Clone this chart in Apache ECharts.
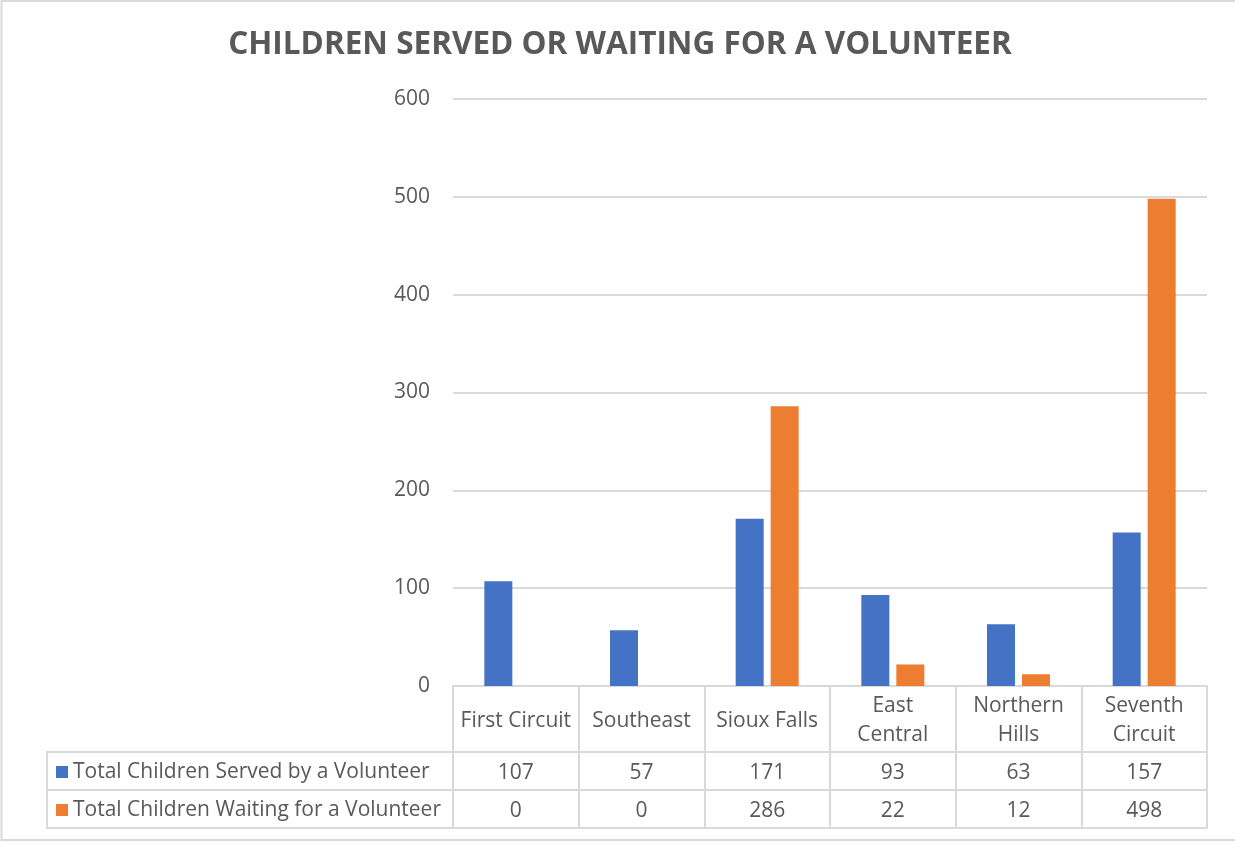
<!DOCTYPE html>
<html>
<head>
<meta charset="utf-8">
<script src="https://cdn.jsdelivr.net/npm/echarts@6/dist/echarts.min.js"></script>
<style>
  html, body { margin: 0; padding: 0; background: #fff; }
  #charts { width: 1235px; height: 842px; }
</style>
</head>
<body>
<div id="charts"></div>
<script>
var categories = ['First Circuit', 'Southeast', 'Sioux Falls', 'East Central', 'Northern Hills', 'Seventh Circuit'];
var wrapped = ['East Central', 'Northern Hills', 'Seventh Circuit'];
var servedName = 'Total Children Served by a Volunteer';
var waitingName = 'Total Children Waiting for a Volunteer';
var served = [107, 57, 171, 93, 63, 157];
var waiting = [0, 0, 286, 22, 12, 498];
var yTicks = [0, 100, 200, 300, 400, 500, 600];

var font = 'Open Sans';
var textColor = '#595959';
var lineColor = '#d9d9d9';

// header labels that sit on two lines in the table
function wrapLabel(v){
	return wrapped.indexOf(v) > -1 ? v.replace(' ', '\n') : v;
}

// one x axis per table row, stacked under the plot
function tableRow(values, offset, tickLen, margin, formatter){
	return {
		type: 'category',
		data: values,
		position: 'bottom',
		offset: offset,
		axisLine: { show: true, lineStyle: { color: lineColor, width: 2 } },
		axisTick: { show: true, length: tickLen, interval: 0, lineStyle: { color: lineColor, width: 2 } },
		axisLabel: {
			show: formatter !== false,
			interval: 0,
			margin: margin,
			verticalAlign: 'middle',
			color: textColor,
			fontFamily: font,
			fontSize: 21,
			lineHeight: 29,
			formatter: formatter || undefined
		},
		splitLine: { show: false }
	};
}

var myChart = echarts.init(document.getElementById('charts'));

var option = {
	backgroundColor: '#fff',
	animation: false,
	title: {
		text: 'CHILDREN SERVED OR WAITING FOR A VOLUNTEER',
		left: 615,
		textAlign: 'center',
		top: 24,
		textStyle: { color: textColor, fontFamily: font, fontWeight: 'bold', fontSize: 31.5 }
	},
	legend: {
		orient: 'vertical',
		left: 56,
		top: 760,
		padding: 0,
		itemWidth: 12,
		itemHeight: 12,
		itemGap: 14,
		icon: 'rect',
		textStyle: { color: textColor, fontFamily: font, fontSize: 21, lineHeight: 24 },
		data: [servedName, waitingName]
	},
	grid: { left: 453, right: 28, top: 99, bottom: 156 },
	xAxis: [
		tableRow(categories, 0, 66, 35, wrapLabel),
		tableRow(served.map(String), 66, 38, 21),
		tableRow(waiting.map(String), 104, 38, 21),
		tableRow(categories, 142, 0, 0, false)
	],
	yAxis: {
		type: 'value',
		min: yTicks[0],
		max: yTicks[yTicks.length - 1],
		interval: 100,
		axisLine: { show: false },
		axisTick: { show: false },
		axisLabel: { color: textColor, fontFamily: font, fontSize: 21, margin: 23 },
		splitLine: { lineStyle: { color: lineColor, width: 2 } }
	},
	series: [
		{
			name: servedName,
			type: 'bar',
			data: served,
			barWidth: 28,
			barGap: '25%',
			itemStyle: { color: '#4472C4' }
		},
		{
			name: waitingName,
			type: 'bar',
			data: waiting,
			barWidth: 28,
			itemStyle: { color: '#ED7D31' }
		}
	],
	graphic: [
		// left part of the data table
		{ type: 'line', shape: { x1: 47, y1: 752, x2: 453, y2: 752 }, style: { stroke: lineColor, lineWidth: 2 } },
		{ type: 'line', shape: { x1: 47, y1: 790, x2: 453, y2: 790 }, style: { stroke: lineColor, lineWidth: 2 } },
		{ type: 'line', shape: { x1: 47, y1: 828, x2: 453, y2: 828 }, style: { stroke: lineColor, lineWidth: 2 } },
		{ type: 'line', shape: { x1: 47, y1: 751, x2: 47, y2: 829 }, style: { stroke: lineColor, lineWidth: 2 } },
		// chart area border
		{ type: 'rect', shape: { x: 1.5, y: 1, width: 1250, height: 839 }, style: { fill: 'none', stroke: lineColor, lineWidth: 2 } }
	]
};

myChart.setOption(option);
</script>
</body>
</html>
